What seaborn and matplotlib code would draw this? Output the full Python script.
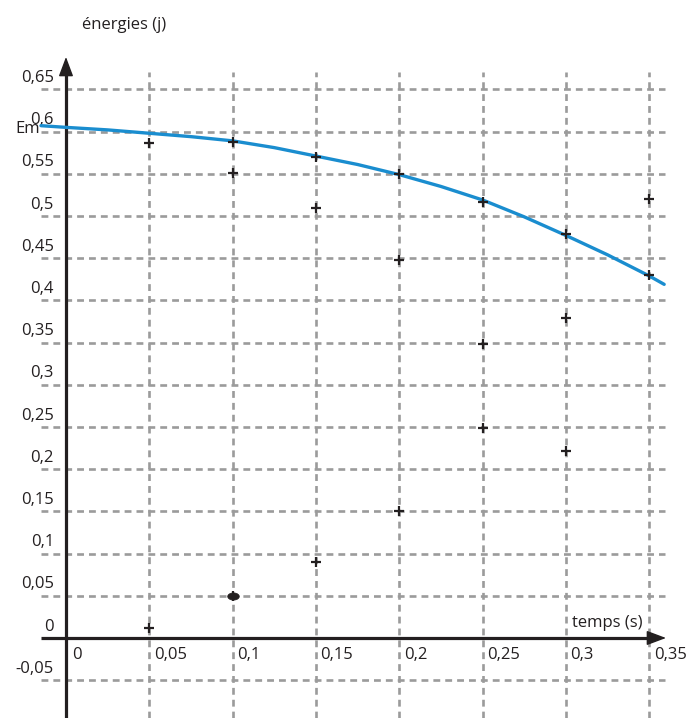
import numpy as np
import pandas as pd
import matplotlib
matplotlib.use("Agg")
import matplotlib.pyplot as plt
from matplotlib.path import Path
import seaborn as sns

# Axis graduations
x_ticks = [0, 0.05, 0.1, 0.15, 0.2, 0.25, 0.3, 0.35]
x_tick_labels = ["0", "0,05", "0,1", "0,15", "0,2", "0,25", "0,3", "0,35"]
y_ticks = [-0.05, 0, 0.05, 0.1, 0.15, 0.2, 0.25, 0.3, 0.35, 0.4, 0.45, 0.5, 0.55, 0.6, 0.65]
y_tick_labels = ["-0,05", "0", "0,05", "0,1", "0,15", "0,2", "0,25", "0,3", "0,35",
                 "0,4", "0,45", "0,5", "0,55", "0,6", "0,65"]

# Measured energies (J) versus time (s)
t_meas = [0.05, 0.1, 0.15, 0.2, 0.25, 0.3, 0.35]
ep_meas = [0.587, 0.551, 0.509, 0.448, 0.348, 0.222, np.nan]
ec_meas = [0.012, 0.050, 0.090, 0.150, 0.249, 0.379, 0.520]
em_meas = [np.nan, 0.588, 0.570, 0.550, 0.517, 0.479, 0.430]

# Mechanical energy curve
t_curve = [-0.015, 0, 0.025, 0.05, 0.075, 0.1, 0.125, 0.15, 0.175, 0.2, 0.225,
           0.25, 0.275, 0.3, 0.325, 0.35, 0.359]
em_curve = [0.607, 0.605, 0.602, 0.598, 0.594, 0.589, 0.581, 0.571, 0.561, 0.549,
            0.535, 0.519, 0.499, 0.477, 0.454, 0.429, 0.419]

INK = "#231f20"
GRID = "#9b9b9b"
BLUE = "#1a8dcf"

sns.set_theme(style="white")
plt.rcParams["font.family"] = ["Open Sans", "DejaVu Sans"]

fig = plt.figure(figsize=(6.88, 7.18), dpi=100)
ax = fig.add_axes([0, 0, 1, 1])
ax.set_xlim(-0.0396, 0.3733)
ax.set_ylim(-0.0948, 0.7559)
ax.axis("off")

# dashed grid
dash = (0, (2.6, 1.9))
ax.vlines(x_ticks[1:], -0.0948, 0.6706, colors=GRID, linewidth=1.9,
          linestyles=[dash], zorder=1)
ax.hlines([v for v in y_ticks if v != 0], -0.015, 0.3595, colors=GRID,
          linewidth=1.9, linestyles=[dash], zorder=1)

# axes with arrow heads
ax.plot([0, 0], [-0.0948, 0.670], color=INK, lw=2.3, solid_capstyle="butt", zorder=3)
ax.plot([-0.015, 0.351], [0, 0], color=INK, lw=2.3, solid_capstyle="butt", zorder=3)
head = dict(arrowstyle="-|>,head_length=1.2,head_width=0.45", color=INK, lw=1,
            shrinkA=0, shrinkB=0, mutation_scale=10)
ax.annotate("", xy=(0, 0.6884), xytext=(0, 0.66), arrowprops=head, zorder=4)
ax.annotate("", xy=(0.3601, 0), xytext=(0.345, 0), arrowprops=head, zorder=4)

# mechanical energy curve
sns.lineplot(x=t_curve, y=em_curve, ax=ax, color=BLUE, lw=2.4, sort=False,
             estimator=None, zorder=5)

# measurement crosses
df = pd.DataFrame({"t": t_meas, "Ep": ep_meas, "Ec": ec_meas, "Em": em_meas})
long = df.melt(id_vars="t", var_name="energie", value_name="E").dropna()
sns.scatterplot(data=long, x="t", y="E", ax=ax, marker="+", s=60, color=INK,
                linewidth=1.6, zorder=6, legend=False)

# the point at t = 0,1 s on Ec is drawn as a filled blot
theta = np.linspace(0, 2 * np.pi, 40)
blot = Path(np.column_stack([np.cos(theta), 0.62 * np.sin(theta)]))
sns.scatterplot(x=[t_meas[1]], y=[ec_meas[1]], ax=ax, marker=blot, s=70,
                color=INK, edgecolor=INK, linewidth=0.5, zorder=6, legend=False)

# graduation labels
txt = dict(fontsize=12, color=INK)
for v, lab in zip(y_ticks, y_tick_labels):
    ax.text(-0.0072, v + 0.0136, lab, ha="right", va="center", **txt)
for v, lab in zip(x_ticks, x_tick_labels):
    ax.text(v + (0.0037 if v == 0 else 0.0027), -0.020, lab, ha="left",
            va="center", **txt)

ax.text(0.0096, 0.726, "énergies (j)", ha="left", va="center", **txt)
ax.text(0.3037, 0.0178, "temps (s)", ha="left", va="center", **txt)
ax.text(-0.0306, 0.603, "Em", ha="left", va="center", **txt)

fig.savefig("out.png", dpi=100)
